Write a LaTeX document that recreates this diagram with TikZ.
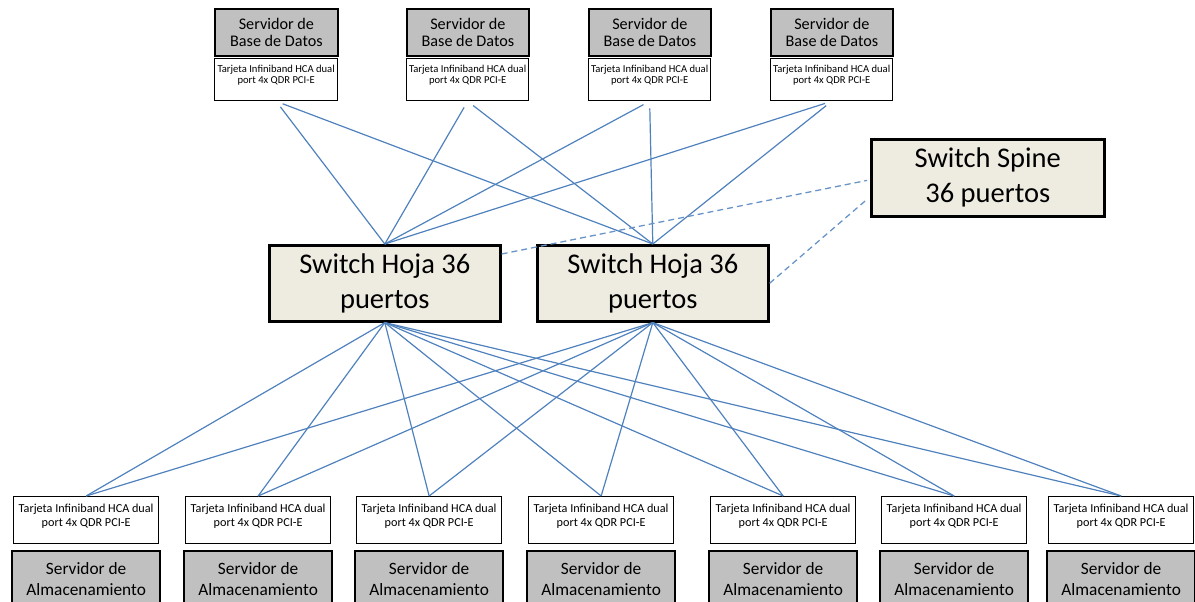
\documentclass[tikz,border=0pt]{standalone}
\usepackage{fontspec}
\setmainfont{Carlito}
\usetikzlibrary{calc}
\definecolor{lnblue}{RGB}{79,129,189}
\definecolor{srvgray}{RGB}{192,192,192}
\definecolor{swfill}{RGB}{238,236,225}
\begin{document}
\begin{tikzpicture}[x=1pt,y=-1pt,
  topsrv/.style={draw=black, line width=1.8pt, fill=srvgray, anchor=north west,
    minimum width=123pt, minimum height=47pt, inner sep=0pt, align=center,
    font=\fontsize{16.2}{17}\selectfont},
  topcard/.style={draw=black, line width=1.3pt, fill=white, anchor=north west,
    minimum width=123pt, minimum height=42pt, inner sep=0pt},
  topcardlbl/.style={anchor=north, yshift=-7pt, inner sep=0pt, align=center,
    font=\fontsize{10.6}{10.5}\selectfont},
  botcard/.style={draw=black, line width=1.3pt, fill=white, anchor=north west,
    minimum width=145pt, minimum height=47pt, inner sep=0pt},
  botcardlbl/.style={anchor=north, yshift=-8pt, inner sep=0pt, align=center,
    font=\fontsize{12.2}{14}\selectfont},
  botsrv/.style={draw=black, line width=1.8pt, fill=srvgray, anchor=north,
    minimum width=148pt, minimum height=56pt, inner sep=0pt, align=center,
    font=\fontsize{17.3}{21.5}\selectfont},
  switchbox/.style={draw=black, line width=2.6pt, fill=swfill, anchor=north west,
    minimum width=231pt, minimum height=76pt, inner sep=0pt, align=center,
    font=\fontsize{28.5}{35}\selectfont},
  conn/.style={draw=lnblue, line width=1.2pt},
  dconn/.style={draw=lnblue!85, line width=1.3pt, dash pattern=on 6pt off 4pt}
]
\useasboundingbox (0,0) rectangle (1195,602);
\clip (0,0) rectangle (1195,602);

% top servers and cards
\foreach \i/\x/\w in {1/214/123, 2/406/122, 3/588/122, 4/770/122}{
  \node[topsrv, minimum width=\w pt] (s\i) at (\x,8) {Servidor de\\Base de Datos};
  \node[topcard, minimum width=\w pt,
    label={[topcardlbl]north:Tarjeta Infiniband HCA dual\\port 4x QDR PCI-E}] (c\i) at (\x,58) {};
}

% switches
\node[switchbox] (sw1) at (268,244) {Switch Hoja 36\\puertos};
\node[switchbox] (sw2) at (536,244) {Switch Hoja 36\\puertos};
\node[switchbox, minimum width=233pt, minimum height=77pt] (spine) at (870,138) {Switch Spine\\36 puertos};

% bottom cards and servers
\foreach \i/\x in {1/13, 2/185, 3/356, 4/528, 5/710, 6/881, 7/1048}{
  \node[botcard,
    label={[botcardlbl]north:Tarjeta Infiniband HCA dual\\port 4x QDR PCI-E}] (b\i) at (\x,496) {};
  \node[botsrv] (m\i) at ([yshift=-6pt]b\i.south) {Servidor de\\Almacenamiento};
}

% connectors top
\foreach \i in {1,2,3,4}{
  \foreach \s in {sw1,sw2}{
    \draw[conn, shorten <=7pt] (c\i.south) -- (\s.north);
  }
}
% connectors bottom
\foreach \i in {1,...,7}{
  \foreach \s in {sw1,sw2}{
    \draw[conn] (\s.south) -- (b\i.north);
  }
}
% dashed links to spine
\draw[dconn, shorten >=3pt] ([yshift=-10pt]sw1.north east) -- ([yshift=-2pt]spine.west);
\draw[dconn, shorten >=4pt] (sw2.east) -- ([yshift=-19pt]spine.west);
\end{tikzpicture}
\end{document}
